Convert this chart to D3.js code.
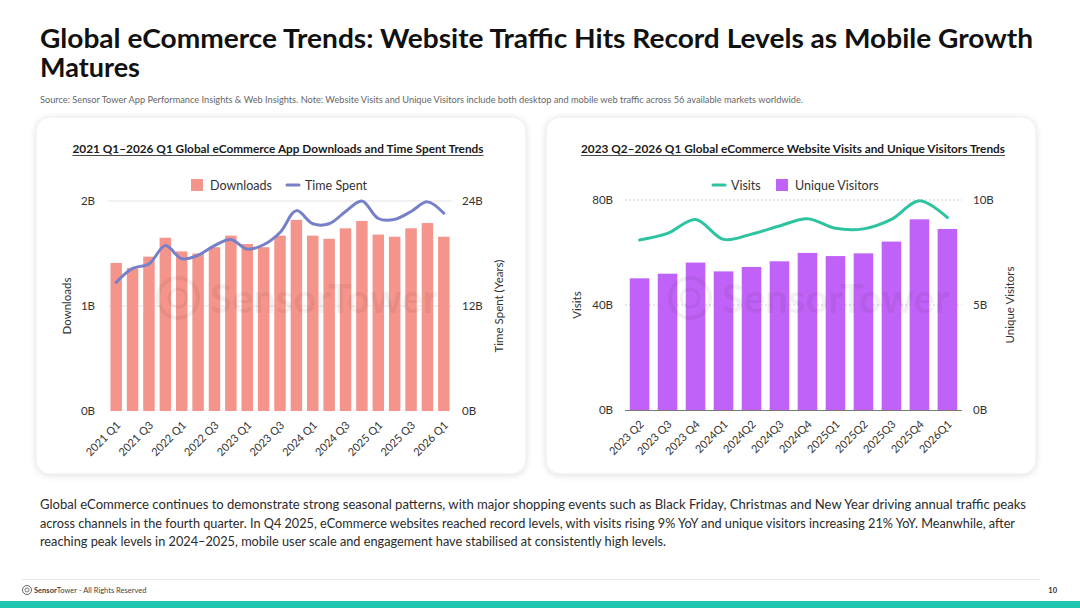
<!DOCTYPE html>
<html>
<head>
<meta charset="utf-8">
<script src="https://cdn.jsdelivr.net/npm/d3@7"></script>
<style>
  body { margin: 0; background: #fff; }
  svg { display: block; font-family: "Source Sans Pro", Lato, "Noto Sans", sans-serif; }
</style>
</head>
<body>
<svg id="chart" width="1080" height="608"></svg>
<script>
// ---- data ----
const appQuarters = ["2021 Q1","2021 Q2","2021 Q3","2021 Q4","2022 Q1","2022 Q2","2022 Q3","2022 Q4",
  "2023 Q1","2023 Q2","2023 Q3","2023 Q4","2024 Q1","2024 Q2","2024 Q3","2024 Q4",
  "2025 Q1","2025 Q2","2025 Q3","2025 Q4","2026 Q1"];
const downloads = [1.41,1.36,1.47,1.65,1.52,1.50,1.56,1.67,1.59,1.56,1.67,1.82,1.67,1.64,1.74,1.81,1.68,1.66,1.74,1.79,1.66]; // B
const timeSpent = [14.7,16.3,16.8,18.9,17.4,17.8,18.9,19.6,18.5,19.0,20.4,22.9,21.4,21.4,22.8,24.0,22.0,21.9,22.8,23.9,22.6]; // B years
const appTicks = appQuarters.filter((d, i) => i % 2 === 0);

const webQuarters = ["2023 Q2","2023 Q3","2023 Q4","2024Q1","2024Q2","2024Q3","2024Q4",
  "2025Q1","2025Q2","2025Q3","2025Q4","2026Q1"];
const visits = [64.8,67.3,72.6,65.0,67.0,70.1,72.9,69.2,69.0,72.6,79.7,73.3]; // B
const uniqueVisitors = [6.27,6.49,7.02,6.60,6.81,7.08,7.48,7.33,7.46,8.02,9.08,8.62]; // B

const appLeftTicks = [0, 1, 2];
const appRightTicks = [0, 12, 24];
const webLeftTicks = [0, 40, 80];
const webRightTicks = [0, 5, 10];

const svg = d3.select("#chart");

// card shadow
const defs = svg.append("defs");
defs.append("filter").attr("id", "shadow")
    .attr("x", "-10%").attr("y", "-10%").attr("width", "120%").attr("height", "120%")
  .append("feDropShadow")
    .attr("dx", 0).attr("dy", 1).attr("stdDeviation", 3)
    .attr("flood-color", "#000").attr("flood-opacity", 0.13);

// ---- header ----
svg.append("text")
    .attr("x", 40).attr("y", 48)
    .attr("font-size", 26).attr("font-weight", 700).attr("fill", "#111")
    .attr("textLength", 993).attr("lengthAdjust", "spacingAndGlyphs")
    .text("Global eCommerce Trends: Website Traffic Hits Record Levels as Mobile Growth");
svg.append("text")
    .attr("x", 40).attr("y", 77)
    .attr("font-size", 26).attr("font-weight", 700).attr("fill", "#111")
    .attr("textLength", 100).attr("lengthAdjust", "spacingAndGlyphs")
    .text("Matures");
svg.append("text")
    .attr("x", 40).attr("y", 103)
    .attr("font-size", 9).attr("fill", "#666")
    .attr("textLength", 763).attr("lengthAdjust", "spacingAndGlyphs")
    .text("Source: Sensor Tower App Performance Insights & Web Insights. Note: Website Visits and Unique Visitors include both desktop and mobile web traffic across 56 available markets worldwide.");

// ---- cards ----
[36, 546].forEach(cx => {
  svg.append("rect")
      .attr("x", cx).attr("y", 117).attr("width", 490).attr("height", 357).attr("rx", 14)
      .attr("fill", "#fff").attr("stroke", "#ececec")
      .attr("filter", "url(#shadow)");
});

function panel(p) {
  const g = svg.append("g");
  const x = d3.scaleBand().domain(p.cats).range(p.xr).paddingInner(0.3).paddingOuter(p.po);
  const yL = d3.scaleLinear().domain(p.leftDomain).range([p.y0, p.y1]);
  const yR = d3.scaleLinear().domain(p.rightDomain).range([p.y0, p.y1]);
  const yBar = p.barOnLeft ? yL : yR;
  const yLine = p.barOnLeft ? yR : yL;

  // title
  const t = g.append("text")
      .attr("x", p.titleX).attr("y", 153)
      .attr("text-anchor", "middle")
      .attr("font-size", 12).attr("font-weight", 700).attr("fill", "#1a1a1a")
      .attr("textLength", p.titleW).attr("lengthAdjust", "spacingAndGlyphs")
      .text(p.title);
  g.append("line")
      .attr("x1", p.titleX - p.titleW / 2).attr("x2", p.titleX + p.titleW / 2)
      .attr("y1", 155.5).attr("y2", 155.5)
      .attr("stroke", "#1a1a1a").attr("stroke-width", 0.8);

  // gridlines
  g.append("g").selectAll("line")
    .data(p.leftTicks.filter(d => d > 0))
    .join("line")
      .attr("x1", p.xr[0]).attr("x2", p.xr[1])
      .attr("y1", d => yL(d)).attr("y2", d => yL(d))
      .attr("stroke", p.gridColor).attr("stroke-width", 1)
      .attr("stroke-dasharray", p.gridDash);

  // bars
  g.append("g").selectAll("rect")
    .data(p.bars)
    .join("rect")
      .attr("x", (d, i) => x(p.cats[i]))
      .attr("y", d => yBar(d))
      .attr("width", x.bandwidth())
      .attr("height", d => yBar(0) - yBar(d))
      .attr("fill", p.barColor);

  // watermark
  const wm = g.append("g").attr("opacity", 0.05).attr("fill", "#000").attr("stroke", "#000");
  wm.append("circle").attr("cx", p.wmX).attr("cy", 298).attr("r", 20)
      .attr("fill", "none").attr("stroke-width", 4);
  wm.append("circle").attr("cx", p.wmX).attr("cy", 298).attr("r", 9)
      .attr("fill", "none").attr("stroke-width", 3);
  wm.append("text").attr("x", p.wmX + 32).attr("y", 313)
      .attr("stroke", "none").attr("font-size", 40).attr("font-weight", 700)
      .text("SensorTower");

  if (p.axisLine) {
    g.append("line")
        .attr("x1", p.xr[0]).attr("x2", p.xr[1])
        .attr("y1", p.y0 + 0.5).attr("y2", p.y0 + 0.5)
        .attr("stroke", "#777").attr("stroke-width", 1.2);
  }

  // line
  const line = d3.line()
      .x((d, i) => x(p.cats[i]) + x.bandwidth() / 2)
      .y(d => yLine(d))
      .curve(d3.curveCatmullRom.alpha(0.5));
  g.append("path")
      .datum(p.line)
      .attr("d", line)
      .attr("fill", "none")
      .attr("stroke", p.lineColor)
      .attr("stroke-width", 3)
      .attr("stroke-linecap", "round")
      .attr("stroke-linejoin", "round");

  // axes
  const fmt = d => d + "B";
  const ax = g.append("g").attr("transform", `translate(${p.xr[0]},0)`)
      .call(d3.axisLeft(yL).tickValues(p.leftTicks).tickFormat(fmt).tickSize(0).tickPadding(p.tickPadL));
  const ay = g.append("g").attr("transform", `translate(${p.xr[1]},0)`)
      .call(d3.axisRight(yR).tickValues(p.rightTicks).tickFormat(fmt).tickSize(0).tickPadding(p.tickPadR));
  [ax, ay].forEach(a => {
    a.select(".domain").remove();
    a.selectAll("text").attr("font-size", 11.5).attr("fill", "#333")
        .attr("font-family", "\"Source Sans Pro\", Lato, \"Noto Sans\", sans-serif");
  });

  const xa = g.append("g").attr("transform", `translate(0,${p.y0})`)
      .call(d3.axisBottom(x).tickValues(p.ticks).tickSize(0));
  xa.select(".domain").remove();
  xa.selectAll("text")
      .attr("y", 0).attr("dy", 0)
      .attr("transform", "translate(5,15) rotate(-45)")
      .attr("text-anchor", "end")
      .attr("font-size", 11).attr("fill", "#333")
      .attr("font-family", "\"Source Sans Pro\", Lato, \"Noto Sans\", sans-serif");

  // axis titles
  g.append("text")
      .attr("transform", `translate(${p.leftTitleX},${(p.y0 + p.y1) / 2}) rotate(-90)`)
      .attr("text-anchor", "middle").attr("dy", "0.35em")
      .attr("font-size", 11.5).attr("fill", "#333")
      .text(p.leftTitle);
  g.append("text")
      .attr("transform", `translate(${p.rightTitleX},${(p.y0 + p.y1) / 2}) rotate(-90)`)
      .attr("text-anchor", "middle").attr("dy", "0.35em")
      .attr("font-size", 11.5).attr("fill", "#333")
      .text(p.rightTitle);

  // legend
  const lg = g.append("g").attr("font-size", 12.5).attr("fill", "#333");
  p.legend.forEach(item => {
    if (item.type === "bar") {
      lg.append("rect").attr("x", item.x).attr("y", 179).attr("width", 12).attr("height", 12)
          .attr("fill", item.color);
      lg.append("text").attr("x", item.x + 19).attr("y", 189.5).text(item.label);
    } else {
      lg.append("line").attr("x1", item.x).attr("x2", item.x + 12)
          .attr("y1", 185).attr("y2", 185)
          .attr("stroke", item.color).attr("stroke-width", 3).attr("stroke-linecap", "round");
      lg.append("text").attr("x", item.x + 18).attr("y", 189.5).text(item.label);
    }
  });
}

panel({
  title: "2021 Q1\u20132026 Q1 Global eCommerce App Downloads and Time Spent Trends",
  titleX: 278, titleW: 411,
  cats: appQuarters, ticks: appTicks,
  xr: [108, 452], po: 0.15,
  y0: 411, y1: 201,
  leftDomain: [0, 2], rightDomain: [0, 24],
  leftTicks: appLeftTicks, rightTicks: appRightTicks,
  barOnLeft: true,
  bars: downloads, barColor: "#f5948b",
  line: timeSpent, lineColor: "#7680c8",
  gridColor: "#e3e3e3", gridDash: null, axisLine: false,
  tickPadL: 13, tickPadR: 10,
  leftTitle: "Downloads", leftTitleX: 67,
  rightTitle: "Time Spent (Years)", rightTitleX: 499,
  wmX: 178,
  legend: [
    { type: "bar", label: "Downloads", x: 191, color: "#f5948b" },
    { type: "line", label: "Time Spent", x: 287, color: "#7680c8" }
  ]
});

panel({
  title: "2023 Q2\u20132026 Q1 Global eCommerce Website Visits and Unique Visitors Trends",
  titleX: 793, titleW: 424,
  cats: webQuarters, ticks: webQuarters,
  xr: [625, 962], po: 0.17,
  y0: 410, y1: 200,
  leftDomain: [0, 80], rightDomain: [0, 10],
  leftTicks: webLeftTicks, rightTicks: webRightTicks,
  barOnLeft: false,
  bars: uniqueVisitors, barColor: "#c062f7",
  line: visits, lineColor: "#2ec3a0",
  gridColor: "#cfcfcf", gridDash: "2,2", axisLine: true,
  tickPadL: 12, tickPadR: 11,
  leftTitle: "Visits", leftTitleX: 577,
  rightTitle: "Unique Visitors", rightTitleX: 1010,
  wmX: 690,
  legend: [
    { type: "line", label: "Visits", x: 713, color: "#2ec3a0" },
    { type: "bar", label: "Unique Visitors", x: 776, color: "#c062f7" }
  ]
});

// ---- commentary ----
const para = [
  ["Global eCommerce continues to demonstrate strong seasonal patterns, with major shopping events such as Black Friday, Christmas and New Year driving annual traffic peaks", 986],
  ["across channels in the fourth quarter. In Q4 2025, eCommerce websites reached record levels, with visits rising 9% YoY and unique visitors increasing 21% YoY. Meanwhile, after", 975],
  ["reaching peak levels in 2024\u20132025, mobile user scale and engagement have stabilised at consistently high levels.", 626]
];
svg.append("g").selectAll("text")
  .data(para)
  .join("text")
    .attr("x", 40).attr("y", (d, i) => 509 + i * 18.5)
    .attr("font-size", 12.5).attr("fill", "#2b2b2b")
    .attr("textLength", d => d[1]).attr("lengthAdjust", "spacingAndGlyphs")
    .text(d => d[0]);

// ---- footer ----
svg.append("line")
    .attr("x1", 22).attr("x2", 1040).attr("y1", 579.5).attr("y2", 579.5)
    .attr("stroke", "#e8e8e8");
svg.append("circle").attr("cx", 27).attr("cy", 590).attr("r", 4.5)
    .attr("fill", "none").attr("stroke", "#555").attr("stroke-width", 0.9);
svg.append("circle").attr("cx", 27).attr("cy", 590).attr("r", 2)
    .attr("fill", "none").attr("stroke", "#555").attr("stroke-width", 0.8);
const ft = svg.append("text").attr("x", 34).attr("y", 593)
    .attr("font-size", 7.5).attr("fill", "#444");
ft.append("tspan").attr("font-weight", 700).text("Sensor");
ft.append("tspan").text("Tower - All Rights Reserved");
svg.append("text").attr("x", 1057).attr("y", 593)
    .attr("text-anchor", "end")
    .attr("font-size", 7.5).attr("font-weight", 700).attr("fill", "#333")
    .text("10");
svg.append("rect")
    .attr("x", 0).attr("y", 601).attr("width", 1080).attr("height", 7)
    .attr("fill", "#20c5b2");
</script>
</body>
</html>
